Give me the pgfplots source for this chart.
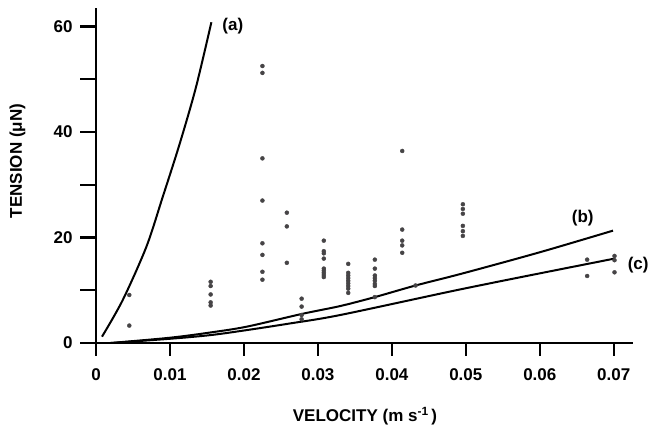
\documentclass[border=0pt]{standalone}
\usepackage{fontspec}
\setmainfont{Liberation Sans}
\usepackage{pgfplots}
\pgfplotsset{compat=1.18}
\definecolor{dotgray}{RGB}{70,68,70}

\pgfplotstableread{
x y
0.0045 9.1
0.0045 3.3
0.0155 11.6
0.0155 10.8
0.0155 9.2
0.0155 7.7
0.0155 7.1
0.0225 52.5
0.0225 51.2
0.0225 35.0
0.0225 27.0
0.0225 18.9
0.0225 16.7
0.0225 13.5
0.0225 12.0
0.0258 24.7
0.0258 22.1
0.0258 15.2
0.0278 8.4
0.0278 6.9
0.0278 5.3
0.0278 4.5
0.0308 19.4
0.0308 17.4
0.0308 17.0
0.0308 16.0
0.0308 14.1
0.0308 13.7
0.0308 13.3
0.0308 12.9
0.0308 12.5
0.0341 15.0
0.0341 13.3
0.0341 12.8
0.0341 12.3
0.0341 11.8
0.0341 11.3
0.0341 10.8
0.0341 10.3
0.0341 9.5
0.0377 15.8
0.0377 14.1
0.0377 12.8
0.0377 12.3
0.0377 11.8
0.0377 11.2
0.0377 10.8
0.0377 8.7
0.0414 36.4
0.0414 21.5
0.0414 19.4
0.0414 18.5
0.0414 17.1
0.0432 10.9
0.0496 26.3
0.0496 25.4
0.0496 24.5
0.0496 22.2
0.0496 21.2
0.0496 20.3
0.0664 15.8
0.0664 12.7
0.0701 16.5
0.0701 15.7
0.0701 13.4
}\measured

\begin{document}
\begin{tikzpicture}[font=\fontsize{17}{20}\selectfont\bfseries]
\begin{axis}[
    at={(0,0)}, anchor=south west,
    scale only axis, width=537pt, height=335pt,
    xmin=0, xmax=0.0726, ymin=0, ymax=63.5,
    axis x line*=bottom, axis y line*=left,
    axis line style={line width=2.2pt, black, -},
    tick align=outside,
    major tick length=13pt,
    tick style={line width=2.2pt, black},
    scaled x ticks=false, scaled y ticks=false,
    xtick={0,0.01,0.02,0.03,0.04,0.05,0.06,0.07},
    xticklabels={0,0.01,0.02,0.03,0.04,0.05,0.06,0.07},
    ytick={0,10,20,30,40,50,60},
    yticklabels={0,,20,,40,,60},
    xticklabel style={yshift=-9pt},
    yticklabel style={xshift=-7pt},
    /pgf/number format/assume math mode=true,
    clip=false,
]
\addplot[only marks, mark=*, mark size=2pt, dotgray] table {\measured};
% curve (a)
\addplot[smooth, line width=2pt, black] coordinates {
    (0.00081,1.2) (0.0036,8.1) (0.0068,18.2) (0.009,27.6)
    (0.0113,37.7) (0.0135,48.4) (0.0156,60.8)};
% curve (b)
\addplot[smooth, line width=2pt, black] coordinates {
    (0.002,0) (0.01,1.0) (0.0155,2.0) (0.0204,3.1) (0.0278,5.5) (0.033,7.0)
    (0.0377,8.7) (0.0432,10.9) (0.0496,13.2) (0.06,17.2) (0.0699,21.3)};
% curve (c)
\addplot[smooth, line width=2pt, black] coordinates {
    (0.002,0) (0.01,0.8) (0.0155,1.5) (0.0204,2.45) (0.0262,3.7) (0.033,5.3)
    (0.0487,10.0) (0.06,13.2) (0.0701,16.0)};
\node at (axis cs:0.0185,60) {(a)};
\node at (axis cs:0.0658,23.7) {(b)};
\node at (axis cs:0.0733,14.7) {(c)};
\end{axis}
% tick marks (axis origin sits at 0,0)
\foreach \i in {0,...,7}
    \draw[line width=2.2pt, black] (\i*73.97pt,0pt) -- (\i*73.97pt,-12pt);
\foreach \j in {0,...,6}
    \draw[line width=2.2pt, black] (0pt,\j*52.76pt) -- (-16pt,\j*52.76pt);
\node[rotate=90] at (-78.5pt,182pt) {TENSION (μN)};
\node at (269pt,-73pt) {VELOCITY (m s\textsuperscript{-1}\,)};
\pgfresetboundingbox
\path (-96pt,-85pt) rectangle (555pt,343pt);
\end{tikzpicture}
\end{document}
